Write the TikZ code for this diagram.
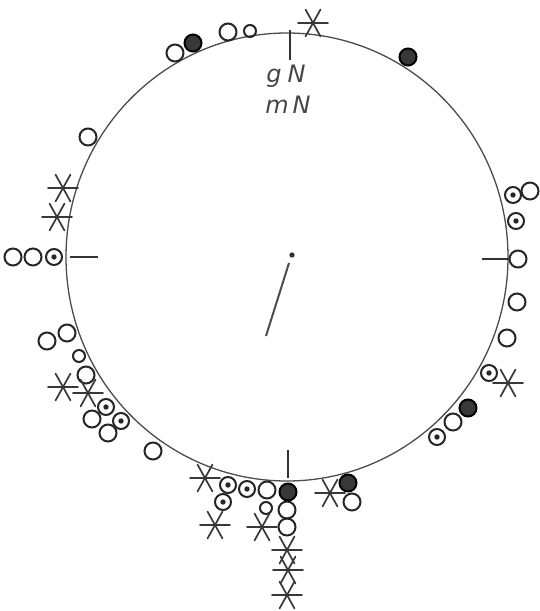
\documentclass[tikz,border=0pt]{standalone}
\usepackage{fontspec}
\setmainfont{DejaVu Sans}
\begin{document}
\begin{tikzpicture}[x=1pt,y=-1pt,
  sym/.style={line width=2pt, draw=black!85},
  oc/.style={circle, sym, minimum size=17pt, inner sep=0pt},
  sc/.style={circle, sym, minimum size=12pt, inner sep=0pt},
  dc/.style={circle, sym, minimum size=16pt, inner sep=0pt,
    path picture={\fill[black!85] (path picture bounding box.center) circle (2.7pt);}},
  fc/.style={circle, sym, draw=black, fill=black!78, minimum size=17pt, inner sep=0pt},
  ast/.pic={\draw[line width=1.7pt, black!78, line cap=round]
     (-15,0)--(15,0) (-7.5,-13.5)--(7.5,13.5) (7.5,-13.5)--(-7.5,13.5);},
  thin/.style={line width=1.3pt, draw=black!70},
  lbl/.style={font=\itshape\fontsize{24}{28}\selectfont, text=black!72, inner sep=0pt}]
\useasboundingbox (0,0) rectangle (539,611);
% main circle
\draw[thin] (287,257) ellipse [x radius=221, y radius=224];
% ticks
\draw[line width=1.5pt, black!80] (290,30) -- (290,60);
\draw[line width=1.5pt, black!80] (70,257) -- (98,257);
\draw[line width=1.5pt, black!80] (482,259) -- (510,259);
\draw[line width=1.5pt, black!80] (288,450) -- (288,478);
% needle
\coordinate (nc) at (292,255);
\coordinate (na) at (289,263);
\coordinate (nb) at (266,336);
\fill[black!80] (nc) circle (2.7pt);
\draw[line width=2pt, black!70] (na) -- (nb);
% labels
\node[lbl] (gN) at (286,76) {g\hspace{6pt}N};
\node[lbl] (mN) at (288,105) {m\hspace{4pt}N};
% open circles
\foreach \p [count=\i] in {(175,53),(228,32),(88,137),(13,257),(33,257),(47,341),(67,333),(86,375),(92,419),(108,433),(153,451),(267,490),(287,510),(287,527),(352,502),(530,191),(518,259),(517,302),(507,338),(453,422)}
  \node[oc] (o\i) at \p {};
% small circles
\foreach \p [count=\i] in {(250,31),(79,356),(266,508)}
  \node[sc] (s\i) at \p {};
% dotted circles
\foreach \p [count=\i] in {(54,257),(106,407),(121,421),(228,485),(247,489),(223,502),(513,195),(516,221),(489,373),(437,437)}
  \node[dc] (d\i) at \p {};
% filled circles
\foreach \p [count=\i] in {(193,43),(408,57),(288,492),(348,483),(468,408)}
  \node[fc] (f\i) at \p {};
% asterisks
\foreach \p in {(313,23),(63,188),(57,217),(63,387),(88,393),(205,478),(215,525),(262,527),(287,550),(288,570),(287,595),(330,493),(508,383)}
  \pic at \p {ast};
\end{tikzpicture}
\end{document}
